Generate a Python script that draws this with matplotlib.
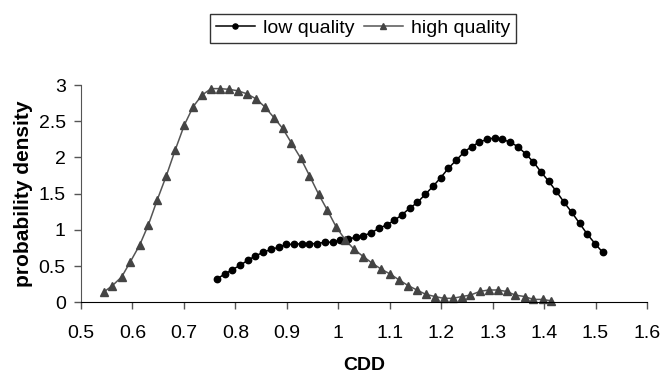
import matplotlib
matplotlib.use("Agg")
import matplotlib.pyplot as plt

plt.rcParams['font.family'] = ['Liberation Sans', 'DejaVu Sans']

# CDD grid and density values
cdd_low = [0.764, 0.779, 0.794, 0.809, 0.824, 0.839, 0.854, 0.869, 0.884, 0.899,
           0.914, 0.929, 0.944, 0.959, 0.974, 0.989, 1.004, 1.019, 1.034, 1.049,
           1.064, 1.079, 1.094, 1.109, 1.124, 1.139, 1.154, 1.169, 1.184, 1.199,
           1.214, 1.229, 1.244, 1.259, 1.274, 1.289, 1.304, 1.319, 1.334, 1.349,
           1.364, 1.379, 1.394, 1.409, 1.424, 1.439, 1.454, 1.469, 1.484, 1.499,
           1.514]
dens_low = [0.32, 0.39, 0.45, 0.51, 0.58, 0.64, 0.69, 0.73, 0.76, 0.80,
            0.80, 0.81, 0.81, 0.81, 0.83, 0.83, 0.86, 0.87, 0.90, 0.92,
            0.96, 1.02, 1.07, 1.13, 1.21, 1.30, 1.38, 1.49, 1.60, 1.72,
            1.85, 1.96, 2.07, 2.15, 2.21, 2.25, 2.27, 2.25, 2.21, 2.15,
            2.05, 1.94, 1.80, 1.67, 1.53, 1.38, 1.24, 1.09, 0.94, 0.81,
            0.69]

cdd_high = [0.544, 0.561, 0.579, 0.596, 0.614, 0.631, 0.648, 0.666, 0.683, 0.701,
            0.718, 0.735, 0.753, 0.770, 0.788, 0.805, 0.822, 0.840, 0.857, 0.875,
            0.892, 0.909, 0.927, 0.944, 0.962, 0.979, 0.996, 1.014, 1.031, 1.049,
            1.066, 1.083, 1.101, 1.118, 1.136, 1.153, 1.170, 1.188, 1.205, 1.223,
            1.240, 1.257, 1.275, 1.292, 1.310, 1.327, 1.344, 1.362, 1.379, 1.397,
            1.414]
dens_high = [0.14, 0.23, 0.35, 0.56, 0.79, 1.07, 1.41, 1.75, 2.10, 2.45,
             2.70, 2.86, 2.95, 2.95, 2.94, 2.92, 2.88, 2.81, 2.70, 2.55,
             2.40, 2.20, 1.99, 1.75, 1.49, 1.27, 1.04, 0.86, 0.73, 0.63,
             0.54, 0.46, 0.39, 0.31, 0.23, 0.17, 0.11, 0.08, 0.055, 0.055,
             0.08, 0.10, 0.15, 0.17, 0.17, 0.15, 0.10, 0.08, 0.04, 0.04,
             0.02]

x_ticks = [0.5, 0.6, 0.7, 0.8, 0.9, 1.0, 1.1, 1.2, 1.3, 1.4, 1.5, 1.6]
x_ticklabels = ['0.5', '0.6', '0.7', '0.8', '0.9', '1', '1.1', '1.2', '1.3', '1.4', '1.5', '1.6']
y_ticks = [0, 0.5, 1, 1.5, 2, 2.5, 3]
y_ticklabels = ['0', '0.5', '1', '1.5', '2', '2.5', '3']

fig = plt.figure(figsize=(6.61, 3.73), dpi=100)
ax = fig.add_axes([0.1225, 0.1895, 0.8563, 0.5826])

ax.plot(cdd_low, dens_low, '-o', color='black', linewidth=1.1,
        markersize=4.6, label='low quality', clip_on=False)
ax.plot(cdd_high, dens_high, '-^', color='#555555', markerfacecolor='#444444',
        markeredgecolor='#444444', linewidth=1.1, markersize=5.5,
        label='high quality', clip_on=False)

ax.set_xlim(0.5, 1.6)
ax.set_ylim(0, 3)
ax.set_xticks(x_ticks)
ax.set_xticklabels(x_ticklabels)
ax.set_yticks(y_ticks)
ax.set_yticklabels(y_ticklabels)

for s in ['top', 'right']:
    ax.spines[s].set_visible(False)
ax.spines['left'].set_color('#555555')
ax.spines['bottom'].set_color('black')
ax.tick_params(axis='x', direction='out', length=5, width=1, color='#555555',
               labelsize=14, pad=11)
ax.tick_params(axis='y', direction='out', length=5, width=1, color='#555555',
               labelsize=14, pad=6)

ax.set_xlabel('CDD', fontsize=14, fontweight='bold', labelpad=11)
ax.set_ylabel('probability density', fontsize=15, fontweight='bold', labelpad=4)

leg = fig.legend(loc='center', bbox_to_anchor=(0.549, 0.9236), ncol=2,
                 fontsize=14, frameon=True, fancybox=False, edgecolor='black',
                 handlelength=2.0, handletextpad=0.4, columnspacing=0.5,
                 borderpad=0.3, markerscale=0.8)
leg.get_frame().set_linewidth(1.0)

fig.savefig('out.png', dpi=100)
